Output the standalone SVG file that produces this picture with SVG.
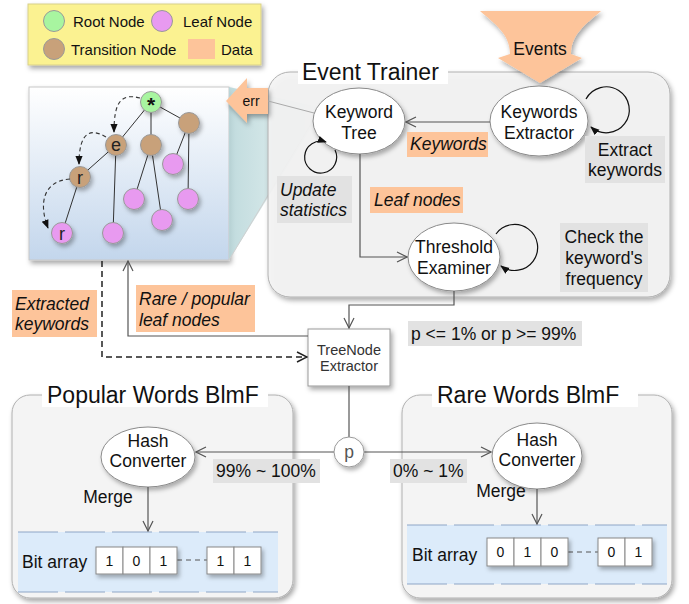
<svg xmlns="http://www.w3.org/2000/svg" width="689" height="604" viewBox="0 0 689 604">
<defs>
<style>
text{font-family:"Liberation Sans",Arial,sans-serif;fill:#111}
.t{font-size:17.5px}
.c{text-anchor:middle}
.ti{font-size:17.5px;font-style:italic}
.title{font-size:23px}
.leg{font-size:15px}
.sm{font-size:14.5px;fill:#333}
.el{fill:#fff;stroke:#8a8a8a;stroke-width:1}
.ln{fill:none;stroke:#555;stroke-width:1.2}
.lp{fill:#fdc49a}
.lg{fill:#e2e2e2}
.box{fill:#f4f4f4;stroke:#b0b0b0;stroke-width:1}
.tr{stroke:#333;stroke-width:1;fill:none}
.leaf{fill:#e89af0;stroke:#999;stroke-width:1}
.brn{fill:#c8a17a;stroke:#999;stroke-width:1}
.cell{fill:#fff;stroke:#888;stroke-width:1}
.bit{font-size:14px;text-anchor:middle}
.band{fill:#dcebfa}
.bd{stroke:#8ea6c6;stroke-width:1.2;stroke-dasharray:40,7}
.nt{font-size:18px;text-anchor:middle;fill:#222}
</style>
<filter id="sh" x="-20%" y="-20%" width="150%" height="160%"><feDropShadow dx="2" dy="3" stdDeviation="2.5" flood-color="#000" flood-opacity="0.35"/></filter>
<filter id="shs" x="-20%" y="-20%" width="150%" height="160%"><feDropShadow dx="2" dy="3" stdDeviation="2" flood-color="#000" flood-opacity="0.3"/></filter>
<linearGradient id="tg" x1="0" y1="0" x2="0" y2="1"><stop offset="0" stop-color="#ffffff"/><stop offset="1" stop-color="#c3d6ec"/></linearGradient>
<linearGradient id="teal" x1="0" y1="0" x2="1" y2="0"><stop offset="0" stop-color="#b6d5d8"/><stop offset="1" stop-color="#e4f1f1"/></linearGradient>
<marker id="ao" viewBox="0 0 12 12" refX="11" refY="6" markerWidth="12" markerHeight="12" markerUnits="userSpaceOnUse" orient="auto"><path d="M1,1 L11,6 L1,11" fill="none" stroke="#555" stroke-width="1.2"/></marker>
<marker id="aod" viewBox="0 0 12 12" refX="11" refY="6" markerWidth="12" markerHeight="12" markerUnits="userSpaceOnUse" orient="auto"><path d="M1,1 L11,6 L1,11" fill="none" stroke="#222" stroke-width="1.5"/></marker>
<marker id="af" viewBox="0 0 10 10" refX="9" refY="5" markerWidth="9" markerHeight="9" markerUnits="userSpaceOnUse" orient="auto"><path d="M0,1 L10,5 L0,9 z" fill="#111"/></marker>
</defs>

<rect width="689" height="604" fill="#fff"/>

<g id="legend">
<rect x="28" y="4" width="233" height="61" fill="#fbf291" stroke="#d8d08a" filter="url(#sh)"/>
<circle cx="54" cy="21" r="10.5" fill="#a8f5a0" stroke="#999"/>
<text class="leg" x="73" y="27">Root Node</text>
<circle cx="162" cy="21" r="10.5" class="leaf"/>
<text class="leg" x="183" y="27">Leaf Node</text>
<circle cx="54" cy="49" r="10.5" class="brn"/>
<text class="leg" x="71" y="55">Transition Node</text>
<rect x="188" y="39" width="27" height="20" class="lp"/>
<text class="leg" x="221" y="55">Data</text>
</g>

<g id="tree-panel">
<rect x="29" y="87" width="200" height="173" fill="url(#tg)" stroke="#c8c8c8" filter="url(#sh)"/>
<polygon points="229,87 315,106 315,122 229,260" fill="url(#teal)" opacity="0.85"/>
<line x1="229" y1="260" x2="314" y2="119" stroke="#d0d0d0" stroke-width="1"/>
<g class="tr">
<line x1="151" y1="102" x2="116" y2="145"/>
<line x1="151" y1="102" x2="151" y2="145"/>
<line x1="151" y1="102" x2="189" y2="123"/>
<line x1="116" y1="145" x2="80" y2="177"/>
<line x1="116" y1="145" x2="113" y2="233"/>
<line x1="80" y1="177" x2="62" y2="233"/>
<line x1="151" y1="145" x2="134" y2="199"/>
<line x1="151" y1="145" x2="162" y2="220"/>
<line x1="189" y1="123" x2="173" y2="164"/>
<line x1="189" y1="123" x2="188" y2="199"/>
</g>
<g filter="url(#shs)">
<circle cx="151" cy="102" r="10.5" fill="#a8f5a0" stroke="#999"/>
<circle cx="116" cy="145" r="10.5" class="brn"/>
<circle cx="151" cy="145" r="10.5" class="brn"/>
<circle cx="189" cy="123" r="10.5" class="brn"/>
<circle cx="80" cy="177" r="10.5" class="brn"/>
<circle cx="62" cy="233" r="10.5" class="leaf"/>
<circle cx="113" cy="233" r="10.5" class="leaf"/>
<circle cx="134" cy="199" r="10.5" class="leaf"/>
<circle cx="162" cy="220" r="10.5" class="leaf"/>
<circle cx="173" cy="164" r="10.5" class="leaf"/>
<circle cx="188" cy="199" r="10.5" class="leaf"/>
</g>
<text class="nt" x="151" y="112" style="font-weight:bold;font-size:21px;fill:#111">*</text>
<text class="nt" x="116" y="151">e</text>
<text class="nt" x="80" y="184">r</text>
<text class="nt" x="62" y="240">r</text>
<g fill="none" stroke="#333" stroke-width="1.1" stroke-dasharray="4,3">
<path d="M140,98 C121,93 114,102 114,132" marker-end="url(#af)"/>
<path d="M106,137 C91,128 79,131 79,164" marker-end="url(#af)"/>
<path d="M70,179 C42,181 39,205 48,228" marker-end="url(#af)"/>
</g>
</g>

<g id="event-trainer">
<rect x="268" y="72" width="402" height="225" rx="22" ry="22" class="box" fill-opacity="0.9" filter="url(#sh)"/>
<rect x="298" y="60" width="150" height="24" fill="#fff"/>
<text class="title" x="302" y="80">Event Trainer</text>
</g>

<g id="err">
<path d="M226,101 L247,78 L247,88 L268,88 L268,114 L247,114 L247,123 Z" class="lp" filter="url(#sh)"/>
<text x="251" y="106" class="c" style="font-size:14px">err</text>
</g>

<g id="events">
<path d="M480,11 L601,11 C586,24 571,34 571,54 L582,58 L540,83 L498,58 L510,54 C510,34 495,24 480,11 Z" class="lp" filter="url(#sh)"/>
<text class="t c" x="540" y="55">Events</text>
</g>

<g id="keywords-extractor">
<ellipse cx="539" cy="121" rx="49" ry="35" class="el" filter="url(#shs)"/>
<text class="t c" x="539" y="118">Keywords</text>
<text class="t c" x="539" y="139">Extractor</text>
</g>

<g id="keyword-tree">
<ellipse cx="359" cy="121" rx="46" ry="33" class="el" filter="url(#shs)"/>
<text class="t c" x="359" y="118">Keyword</text>
<text class="t c" x="359" y="139">Tree</text>
</g>

<g id="threshold-examiner">
<ellipse cx="454" cy="257" rx="46" ry="34" class="el" filter="url(#shs)"/>
<text class="t c" x="454" y="253">Threshold</text>
<text class="t c" x="454" y="274">Examiner</text>
</g>

<g id="treenode-extractor">
<rect x="308" y="329" width="82" height="57" fill="#fff" stroke="#999" filter="url(#sh)"/>
<text class="sm c" x="349" y="355">TreeNode</text>
<text class="sm c" x="349" y="371">Extractor</text>
</g>

<g id="popular-blmf">
<rect x="12" y="395" width="281" height="203" rx="18" ry="18" class="box" filter="url(#sh)"/>
<rect x="42" y="383" width="226" height="24" fill="#fff"/>
<text class="title" x="47" y="403">Popular Words BlmF</text>
<rect x="18" y="532" width="260" height="60" class="band"/>
<line x1="18" y1="532" x2="278" y2="532" class="bd"/>
<line x1="18" y1="592" x2="278" y2="592" class="bd"/>
<text class="t" x="22" y="568">Bit array</text>
<line x1="177" y1="560" x2="207" y2="560" stroke="#555" stroke-dasharray="5,4"/>
<g filter="url(#shs)">
<rect x="96" y="547" width="27" height="27" class="cell"/>
<rect x="123" y="547" width="27" height="27" class="cell"/>
<rect x="150" y="547" width="27" height="27" class="cell"/>
<rect x="207" y="547" width="27" height="27" class="cell"/>
<rect x="234" y="547" width="27" height="27" class="cell"/>
</g>
<text class="bit" x="109.5" y="566">1</text>
<text class="bit" x="136.5" y="566">0</text>
<text class="bit" x="163.5" y="566">1</text>
<text class="bit" x="220.5" y="566">1</text>
<text class="bit" x="247.5" y="566">1</text>
<text class="t c" x="108" y="503">Merge</text>
</g>

<g id="hash-popular">
<ellipse cx="148" cy="457" rx="47" ry="30" class="el" filter="url(#shs)"/>
<text class="t c" x="148" y="447">Hash</text>
<text class="t c" x="148" y="467">Converter</text>
</g>

<g id="rare-blmf">
<rect x="402" y="395" width="270" height="203" rx="18" ry="18" class="box" filter="url(#sh)"/>
<rect x="432" y="383" width="206" height="24" fill="#fff"/>
<text class="title" x="437" y="403">Rare Words BlmF</text>
<rect x="407" y="525" width="260" height="59" class="band"/>
<line x1="407" y1="525" x2="667" y2="525" class="bd"/>
<line x1="407" y1="584" x2="667" y2="584" class="bd"/>
<text class="t" x="412" y="561">Bit array</text>
<line x1="568" y1="552" x2="598" y2="552" stroke="#555" stroke-dasharray="5,4"/>
<g filter="url(#shs)">
<rect x="487" y="538" width="27" height="28" class="cell"/>
<rect x="514" y="538" width="27" height="28" class="cell"/>
<rect x="541" y="538" width="27" height="28" class="cell"/>
<rect x="598" y="538" width="27" height="28" class="cell"/>
<rect x="625" y="538" width="27" height="28" class="cell"/>
</g>
<text class="bit" x="500.5" y="557">0</text>
<text class="bit" x="527.5" y="557">1</text>
<text class="bit" x="554.5" y="557">0</text>
<text class="bit" x="611.5" y="557">0</text>
<text class="bit" x="638.5" y="557">1</text>
<text class="t c" x="501" y="497">Merge</text>
</g>

<g id="hash-rare">
<ellipse cx="537" cy="456" rx="45" ry="33" class="el" filter="url(#shs)"/>
<text class="t c" x="537" y="446">Hash</text>
<text class="t c" x="537" y="466">Converter</text>
</g>

<g id="labels">
<rect x="407" y="132" width="81" height="25" class="lp"/>
<text class="ti" x="410" y="150">Keywords</text>
<rect x="585" y="136" width="80" height="47" class="lg"/>
<text class="t c" x="625" y="156">Extract</text>
<text class="t c" x="625" y="176">keywords</text>
<rect x="277" y="176" width="75" height="47" class="lg"/>
<text class="ti" x="280" y="196">Update</text>
<text class="ti" x="280" y="216">statistics</text>
<rect x="370" y="187" width="93" height="26" class="lp"/>
<text class="ti" x="374" y="206">Leaf nodes</text>
<rect x="560" y="223" width="88" height="69" class="lg"/>
<text class="t c" x="604" y="243">Check the</text>
<text class="t c" x="604" y="264">keyword's</text>
<text class="t c" x="604" y="285">frequency</text>
<rect x="408" y="321" width="174" height="25" class="lg"/>
<text class="t" x="411" y="340">p &lt;= 1% or p &gt;= 99%</text>
<rect x="12" y="290" width="85" height="47" class="lp"/>
<text class="ti" x="15" y="310">Extracted</text>
<text class="ti" x="15" y="330">keywords</text>
<rect x="136" y="285" width="119" height="47" class="lp"/>
<text class="ti" x="139" y="305">Rare / popular</text>
<text class="ti" x="139" y="326">leaf nodes</text>
<rect x="213" y="459" width="107" height="24" class="lg"/>
<text class="t" x="216" y="477">99% ~ 100%</text>
<rect x="390" y="459" width="77" height="24" class="lg"/>
<text class="t" x="393" y="477">0% ~ 1%</text>
</g>

<g id="connectors">
<line x1="268" y1="101" x2="314" y2="113" stroke="#aaa" stroke-width="1"/>
<path class="ln" d="M490,122 L406,122" marker-end="url(#ao)"/>
<path fill="none" stroke="#111" stroke-width="1.2" d="M586,99 A23 23 0 1 1 591,127" marker-end="url(#af)"/>
<path fill="none" stroke="#111" stroke-width="1.2" d="M335,150 A16 16 0 1 1 326,142" marker-end="url(#af)"/>
<path class="ln" d="M360,154 L360,257 L407,257" marker-end="url(#ao)"/>
<path fill="none" stroke="#111" stroke-width="1.2" d="M496,234 A23 23 0 1 1 501,266" marker-end="url(#af)"/>
<path class="ln" d="M454,291 L454,305 L349,305 L349,328" marker-end="url(#ao)"/>
<path class="ln" d="M308,336 L128,336 L128,261" marker-end="url(#ao)"/>
<path fill="none" stroke="#222" stroke-width="1.5" stroke-dasharray="6,4" d="M102,261 L102,357 L307,357" marker-end="url(#aod)"/>
<path class="ln" d="M349,386 L349,437"/>
<path class="ln" d="M334,452 L196,452" marker-end="url(#ao)"/>
<path class="ln" d="M364,452 L491,452" marker-end="url(#ao)"/>
<path class="ln" d="M148,487 L148,531" marker-end="url(#ao)"/>
<path class="ln" d="M537,489 L537,524" marker-end="url(#ao)"/>
</g>

<g id="p-node">
<circle cx="349" cy="452" r="15" fill="#fff" stroke="#999" filter="url(#shs)"/>
<text class="t c" x="349" y="458" style="fill:#555">p</text>
</g>
</svg>
